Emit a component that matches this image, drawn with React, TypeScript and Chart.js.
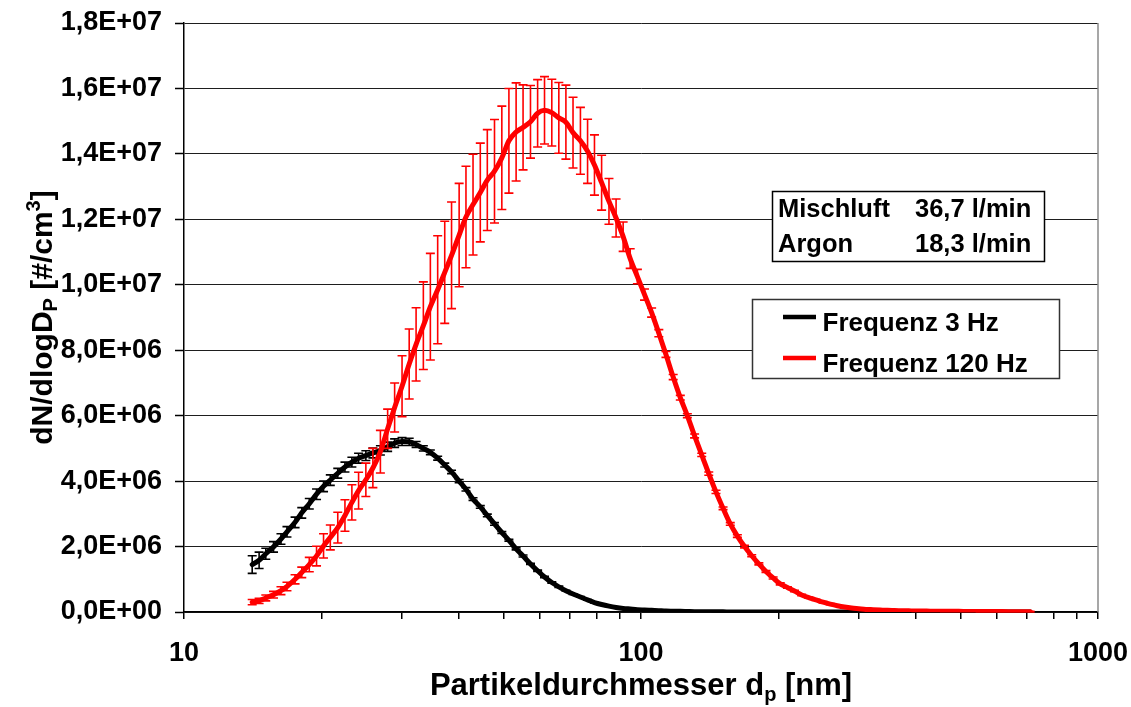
import React, { useEffect, useRef } from 'react';
import { Chart, registerables } from 'chart.js';

Chart.register(...registerables);

// Particle diameter channels (nm)
const diameters = [
  14.1, 14.6, 15.1, 15.7, 16.3, 16.8, 17.5, 18.1, 18.8, 19.5,
  20.2, 20.9, 21.7, 22.5, 23.3, 24.1, 25.0, 25.9, 26.9, 27.9,
  28.9, 30.0, 31.1, 32.2, 33.4, 34.6, 35.9, 37.2, 38.5, 40.0,
  41.4, 42.9, 44.5, 46.1, 47.8, 49.6, 51.4, 53.3, 55.2, 57.3,
  59.4, 61.5, 63.8, 66.1, 68.5, 71.0, 73.7, 76.4, 79.1, 82.0,
  85.1, 88.2, 91.4, 94.7, 98.2, 101.8, 105.5, 109.4, 113.4, 117.6,
  121.9, 126.3, 131.0, 135.8, 140.7, 145.9, 151.2, 156.8, 162.5, 168.5,
  174.7, 181.1, 187.7, 194.6, 201.7, 209.1, 216.7, 224.7, 232.9, 241.4,
  250.3, 259.5, 269.0, 278.8, 289.0, 299.6, 310.6, 322.0, 333.8, 346.0,
  358.7, 371.8, 385.4, 399.5, 414.2, 429.4, 445.1, 461.4, 478.3, 495.8,
  514.0, 532.8, 552.3, 572.5, 593.5, 615.3, 637.8, 661.2, 685.4, 710.5,
];

// dN/dlogDp in units of 1E+06 #/cm3
const freq3Mean = [
  1.45, 1.58, 1.78, 1.99, 2.23, 2.45, 2.74, 3.03, 3.31, 3.60,
  3.84, 4.03, 4.24, 4.43, 4.58, 4.70, 4.78, 4.86, 4.94, 5.05,
  5.16, 5.21, 5.20, 5.12, 5.00, 4.88, 4.70, 4.49, 4.28, 4.00,
  3.75, 3.45, 3.21, 2.95, 2.69, 2.43, 2.19, 1.93, 1.71, 1.47,
  1.26, 1.07, 0.90, 0.77, 0.65, 0.55, 0.46, 0.37, 0.29, 0.23,
  0.18, 0.14, 0.11, 0.09, 0.07, 0.06, 0.05, 0.04, 0.03, 0.025,
  0.02, 0.015, 0.01, 0.008, 0.006, 0.005, 0.004, 0.003, 0.002, 0.002,
  0.002, 0.001, 0.001, 0.001, 0.001, 0.001, 0.001, 0.001, 0.001, 0.001,
  0.001, 0.001, 0.001, 0.001, 0.001, 0, 0, 0, 0, 0,
  0, 0, 0, 0, 0, 0, 0, 0, 0, 0,
  0, 0, 0, 0, 0, 0, 0, 0, 0, 0,
];
const freq3Err = [
  0.27, 0.25, 0.17, 0.16, 0.16, 0.16, 0.16, 0.16, 0.16, 0.16,
  0.16, 0.16, 0.15, 0.15, 0.15, 0.15, 0.15, 0.15, 0.14, 0.14,
  0.13, 0.12, 0.11, 0.09, 0.08, 0.07, 0.06, 0.06, 0.05, 0.05,
  0.05, 0.04, 0.04, 0.04, 0.04, 0.03, 0.03, 0.03, 0.03, 0.02,
  0.02, 0.02, 0.02, 0.02, 0.01, 0.01, 0.01, 0.01, 0.01, 0.01,
  0.01, 0.01, 0.01, 0.01, 0.01, 0.005, 0.005, 0.005, 0.005, 0.005,
  0, 0, 0, 0, 0, 0, 0, 0, 0, 0,
  0, 0, 0, 0, 0, 0, 0, 0, 0, 0,
  0, 0, 0, 0, 0, 0, 0, 0, 0, 0,
  0, 0, 0, 0, 0, 0, 0, 0, 0, 0,
  0, 0, 0, 0, 0, 0, 0, 0, 0, 0,
];
const freq120Mean = [
  0.30, 0.34, 0.43, 0.53, 0.65, 0.78, 1.00, 1.21, 1.45, 1.71,
  2.02, 2.28, 2.58, 2.95, 3.35, 3.71, 4.04, 4.40, 4.90, 5.60,
  6.25, 6.90, 7.58, 8.18, 8.75, 9.33, 9.85, 10.38, 10.90, 11.52,
  12.07, 12.45, 12.82, 13.20, 13.47, 13.88, 14.40, 14.67, 14.81, 14.98,
  15.24, 15.33, 15.26, 15.10, 14.97, 14.65, 14.40, 14.08, 13.66, 13.12,
  12.55, 12.04, 11.47, 10.80, 10.25, 9.70, 9.15, 8.52, 7.87, 7.18,
  6.55, 6.00, 5.38, 4.80, 4.23, 3.67, 3.17, 2.69, 2.32, 2.00,
  1.72, 1.47, 1.24, 1.04, 0.86, 0.75, 0.64, 0.52, 0.44, 0.37,
  0.30, 0.24, 0.19, 0.15, 0.12, 0.10, 0.08, 0.07, 0.06, 0.05,
  0.045, 0.04, 0.035, 0.03, 0.03, 0.025, 0.025, 0.02, 0.02, 0.02,
  0.018, 0.016, 0.015, 0.014, 0.013, 0.012, 0.011, 0.01, 0.01, 0.01,
];
const freq120Err = [
  0.08, 0.08, 0.09, 0.10, 0.12, 0.13, 0.14, 0.16, 0.22, 0.30,
  0.37, 0.38, 0.47, 0.48, 0.54, 0.56, 0.51, 0.60, 0.65, 0.60,
  0.75, 0.93, 1.07, 1.12, 1.34, 1.63, 1.65, 1.56, 1.63, 1.58,
  1.55, 1.54, 1.51, 1.54, 1.58, 1.58, 1.60, 1.50, 1.30, 1.11,
  1.03, 1.03, 1.02, 1.08, 1.13, 1.08, 1.02, 0.98, 0.92, 0.84,
  0.70, 0.58, 0.45, 0.30, 0.22, 0.17, 0.14, 0.11, 0.09, 0.08,
  0.07, 0.06, 0.06, 0.05, 0.05, 0.05, 0.04, 0.04, 0.04, 0.04,
  0.03, 0.03, 0.03, 0.03, 0.03, 0.02, 0.02, 0.02, 0.02, 0.02,
  0.02, 0.02, 0.01, 0.01, 0.01, 0.01, 0.01, 0.01, 0.01, 0.01,
  0.01, 0.01, 0.01, 0.01, 0.01, 0.01, 0.01, 0.01, 0.01, 0.01,
  0.01, 0.01, 0.01, 0.01, 0.01, 0.01, 0.01, 0.01, 0.01, 0.01,
];

const seriesNames = ['Frequenz 3 Hz', 'Frequenz 120 Hz'];
const seriesColors = ['#000000', '#ff0000'];

const yTickValues = [0, 2e6, 4e6, 6e6, 8e6, 1e7, 1.2e7, 1.4e7, 1.6e7, 1.8e7];
const yTickLabels = [
  '0,0E+00', '2,0E+06', '4,0E+06', '6,0E+06', '8,0E+06',
  '1,0E+07', '1,2E+07', '1,4E+07', '1,6E+07', '1,8E+07',
];
const xTickValues = [
  10, 20, 30, 40, 50, 60, 70, 80, 90,
  100, 200, 300, 400, 500, 600, 700, 800, 900, 1000,
];
const xTickLabelValues = [10, 100, 1000];
const xTickLabels = ['10', '100', '1000'];

const infoRows = [
  ['Mischluft', '36,7 l/min'],
  ['Argon', '18,3 l/min'],
];

const UNIT = 1e6;
const FONT = '"Liberation Sans", Arial, Helvetica, sans-serif';

type Part = { t: string; size: number; dy: number };

function drawRich(ctx: CanvasRenderingContext2D, parts: Part[], cx: number, y: number) {
  let total = 0;
  parts.forEach((p) => {
    ctx.font = `bold ${p.size}px ${FONT}`;
    total += ctx.measureText(p.t).width;
  });
  let x = cx - total / 2;
  ctx.textAlign = 'left';
  ctx.textBaseline = 'alphabetic';
  parts.forEach((p) => {
    ctx.font = `bold ${p.size}px ${FONT}`;
    ctx.fillText(p.t, x, y + p.dy);
    x += ctx.measureText(p.t).width;
  });
}

const errorBarPlugin = {
  id: 'errorBars',
  beforeDatasetDraw(chart: any, args: any) {
    const ds = chart.data.datasets[args.index];
    const errs: number[] | undefined = ds.errors;
    if (!errs) return;
    const xs = chart.scales.x;
    const ys = chart.scales.y;
    const ctx: CanvasRenderingContext2D = chart.ctx;
    ctx.save();
    ctx.strokeStyle = ds.borderColor;
    ctx.lineWidth = 1.6;
    ctx.beginPath();
    ds.data.forEach((p: any, i: number) => {
      const px = xs.getPixelForValue(p.x);
      const t = ys.getPixelForValue(p.y + errs[i]);
      const b = ys.getPixelForValue(p.y - errs[i]);
      const hw = 4.5;
      ctx.moveTo(px, t);
      ctx.lineTo(px, b);
      ctx.moveTo(px - hw, t);
      ctx.lineTo(px + hw, t);
      ctx.moveTo(px - hw, b);
      ctx.lineTo(px + hw, b);
    });
    ctx.stroke();
    ctx.restore();
  },
};

const decorPlugin = {
  id: 'decor',
  afterDraw(chart: any) {
    const ctx: CanvasRenderingContext2D = chart.ctx;
    const a = chart.chartArea;
    ctx.save();

    // right border of plot area
    ctx.strokeStyle = '#8a8a8a';
    ctx.lineWidth = 1.5;
    ctx.beginPath();
    ctx.moveTo(a.right, a.top);
    ctx.lineTo(a.right, a.bottom);
    ctx.stroke();

    // info box
    const ib = { l: 772.5, t: 191.5, r: 1044.5, b: 261.5 };
    ctx.fillStyle = '#ffffff';
    ctx.fillRect(ib.l, ib.t, ib.r - ib.l, ib.b - ib.t);
    ctx.strokeStyle = '#000000';
    ctx.lineWidth = 1.5;
    ctx.strokeRect(ib.l, ib.t, ib.r - ib.l, ib.b - ib.t);
    ctx.fillStyle = '#000000';
    ctx.font = `bold 25.5px ${FONT}`;
    ctx.textAlign = 'left';
    ctx.textBaseline = 'alphabetic';
    infoRows.forEach((row, i) => {
      const y = 217 + i * 34.5;
      ctx.fillText(row[0], 778, y);
      ctx.fillText(row[1], 915, y);
    });

    // legend box
    const lb = { l: 752.5, t: 299.5, r: 1059.5, b: 378.5 };
    ctx.fillStyle = '#ffffff';
    ctx.fillRect(lb.l, lb.t, lb.r - lb.l, lb.b - lb.t);
    ctx.strokeStyle = '#333333';
    ctx.lineWidth = 1.5;
    ctx.strokeRect(lb.l, lb.t, lb.r - lb.l, lb.b - lb.t);
    seriesNames.forEach((name, i) => {
      const sy = 317 + i * 41;
      ctx.strokeStyle = seriesColors[i];
      ctx.lineWidth = 4.5;
      ctx.beginPath();
      ctx.moveTo(783, sy);
      ctx.lineTo(816, sy);
      ctx.stroke();
      ctx.fillStyle = '#000000';
      ctx.font = `bold 26px ${FONT}`;
      ctx.textAlign = 'left';
      ctx.textBaseline = 'alphabetic';
      ctx.fillText(name, 822.5, sy + 14);
    });

    // axis titles
    ctx.fillStyle = '#000000';
    drawRich(
      ctx,
      [
        { t: 'Partikeldurchmesser d', size: 31, dy: 0 },
        { t: 'p', size: 20, dy: 6 },
        { t: ' [nm]', size: 31, dy: 0 },
      ],
      (a.left + a.right) / 2,
      695
    );
    ctx.save();
    ctx.translate(52, (a.top + a.bottom) / 2);
    ctx.rotate(-Math.PI / 2);
    drawRich(
      ctx,
      [
        { t: 'dN/dlogD', size: 30, dy: 0 },
        { t: 'P', size: 20, dy: 5 },
        { t: ' [#/cm', size: 30, dy: 0 },
        { t: '3', size: 20, dy: -12 },
        { t: ']', size: 30, dy: 0 },
      ],
      0,
      0
    );
    ctx.restore();

    ctx.restore();
  },
};

export default function App() {
  const canvasRef = useRef<HTMLCanvasElement | null>(null);

  useEffect(() => {
    const canvas = canvasRef.current;
    if (!canvas) return;
    const tickFont = { family: FONT, size: 27, weight: 'bold' as const };

    const chart = new Chart(canvas, {
      type: 'line',
      data: {
        datasets: [
          {
            label: seriesNames[0],
            data: diameters.map((d, i) => ({ x: d, y: freq3Mean[i] * UNIT })),
            errors: freq3Err.map((e) => e * UNIT),
            borderColor: seriesColors[0],
            backgroundColor: seriesColors[0],
            borderWidth: 5,
            pointRadius: 0,
            fill: false,
            cubicInterpolationMode: 'monotone',
            borderCapStyle: 'round',
            borderJoinStyle: 'round',
            order: 2,
          } as any,
          {
            label: seriesNames[1],
            data: diameters.map((d, i) => ({ x: d, y: freq120Mean[i] * UNIT })),
            errors: freq120Err.map((e) => e * UNIT),
            borderColor: seriesColors[1],
            backgroundColor: seriesColors[1],
            borderWidth: 5,
            pointRadius: 0,
            fill: false,
            cubicInterpolationMode: 'monotone',
            borderCapStyle: 'round',
            borderJoinStyle: 'round',
            order: 1,
          } as any,
        ],
      },
      options: {
        animation: false,
        responsive: false,
        maintainAspectRatio: false,
        layout: { autoPadding: false, padding: { left: 0, right: 33, top: 23, bottom: 0 } },
        plugins: {
          legend: { display: false },
          tooltip: { enabled: false },
          title: { display: false },
        },
        scales: {
          x: {
            type: 'logarithmic',
            min: 10,
            max: 1000,
            afterBuildTicks: (s: any) => {
              s.ticks = xTickValues.map((v) => ({ value: v }));
            },
            afterFit: (s: any) => {
              s.height = 95;
              s.paddingLeft = 0;
              s.paddingRight = 0;
            },
            ticks: {
              autoSkip: false,
              maxRotation: 0,
              minRotation: 0,
              padding: 18,
              color: '#000000',
              font: tickFont,
              callback: (v: any) => {
                const k = xTickLabelValues.indexOf(Number(v));
                return k >= 0 ? xTickLabels[k] : '';
              },
            },
            grid: {
              drawOnChartArea: false,
              drawTicks: true,
              tickLength: 7,
              color: '#000000',
              lineWidth: 1.5,
            },
            border: { color: '#000000', width: 1.5 },
          },
          y: {
            min: 0,
            max: 1.8e7,
            afterBuildTicks: (s: any) => {
              s.ticks = yTickValues.map((v) => ({ value: v }));
            },
            afterFit: (s: any) => {
              s.width = 184;
              s.paddingTop = 0;
              s.paddingBottom = 0;
            },
            ticks: {
              padding: 13,
              color: '#000000',
              font: tickFont,
              callback: (_v: any, i: number) => yTickLabels[i],
            },
            grid: {
              color: '#1e1e1e',
              lineWidth: 1,
              tickLength: 9,
              tickColor: '#000000',
              tickWidth: 1.5,
            },
            border: { color: '#000000', width: 1.5 },
          },
        },
      } as any,
      plugins: [errorBarPlugin, decorPlugin],
    });
    return () => chart.destroy();
  }, []);

  return (
    <div style={{ position: 'fixed', left: 0, top: 0, width: 1131, height: 707, background: '#ffffff' }}>
      <canvas ref={canvasRef} width={1131} height={707} style={{ display: 'block' }} />
    </div>
  );
}
